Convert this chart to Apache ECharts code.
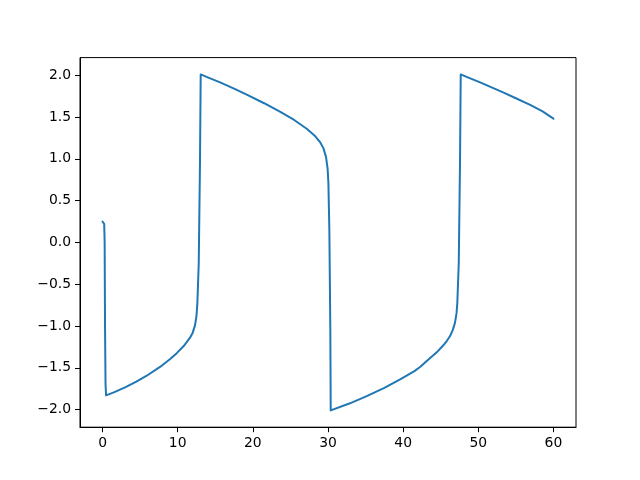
<!DOCTYPE html>
<html>
<head>
<meta charset="utf-8">
<script src="https://cdn.jsdelivr.net/npm/echarts@6/dist/echarts.min.js"></script>
<style>html,body{margin:0;padding:0;background:#fff}#c{width:640px;height:480px}</style>
</head>
<body>
<div id="c"></div>
<script>
const tValues = [0, 0.15, 0.22, 0.28, 0.33, 0.40, 0.47, 1.5, 3.0, 4.5, 5.88, 7.65, 9.0, 9.87, 10.8, 11.64, 12.0, 12.31, 12.5, 12.62, 12.8, 12.97, 13.06,
  14.0, 15.64, 17.5, 19.19, 21.5, 23.6, 25.5, 27.17, 28.2, 28.94, 29.4, 29.74, 29.95, 30.05, 30.18, 30.31, 30.36,
  32.93, 35.15, 37.5, 39.6, 41.5, 42.25, 43.14, 44.47, 45.5, 45.8, 46.24, 46.6, 46.9, 47.1, 47.21, 47.4, 47.57, 47.66,
  48.6, 50.24, 52.0, 53.3, 55.0, 56.9, 58.5, 60.0];
const yValues = [0.25, 0.245, 0.22, 0.0, -1.0, -1.7, -1.83, -1.795, -1.735, -1.665, -1.595, -1.49, -1.395, -1.325, -1.24, -1.14, -1.08, -0.99, -0.88, -0.72, -0.25, 0.99, 2.01,
  1.975, 1.915, 1.84, 1.767, 1.665, 1.565, 1.465, 1.36, 1.28, 1.20, 1.125, 1.02, 0.88, 0.72, 0.148, -1.048, -2.01,
  -1.925, -1.84, -1.74, -1.64, -1.54, -1.49, -1.42, -1.315, -1.215, -1.18, -1.12, -1.05, -0.96, -0.85, -0.72, -0.25, 0.99, 2.01,
  1.975, 1.915, 1.845, 1.795, 1.725, 1.645, 1.57, 1.48];
const xTicks = [0, 10, 20, 30, 40, 50, 60];
const yTicks = [-2.0, -1.5, -1.0, -0.5, 0.0, 0.5, 1.0, 1.5, 2.0];

const data = tValues.map((t, i) => [t, yValues[i]]);
const font = {fontFamily: 'DejaVu Sans', fontSize: 13.9, color: '#000'};
const chart = echarts.init(document.getElementById('c'), null, {renderer: 'canvas'});
chart.setOption({
  animation: false,
  backgroundColor: '#fff',
  grid: {left: 80, right: 64, top: 57.6, bottom: 52.8, show: true, borderColor: '#000', borderWidth: 1, containLabel: false},
  xAxis: {
    type: 'value', min: -3, max: 63,
    splitLine: {show: false},
    axisLine: {show: true, onZero: false, lineStyle: {color: '#000', width: 1}},
    axisTick: {show: true, inside: false, length: 5, customValues: xTicks, lineStyle: {color: '#000', width: 1}},
    axisLabel: Object.assign({margin: 9, customValues: xTicks, formatter: v => String(v)}, font)
  },
  yAxis: {
    type: 'value', min: -2.211, max: 2.211,
    splitLine: {show: false},
    axisLine: {show: true, onZero: false, lineStyle: {color: '#000', width: 1}},
    axisTick: {show: true, inside: false, length: 5, customValues: yTicks, lineStyle: {color: '#000', width: 1}},
    axisLabel: Object.assign({margin: 9, customValues: yTicks, formatter: v => v.toFixed(1).replace('-', '\u2212')}, font)
  },
  series: [{
    type: 'line', data: data, showSymbol: false, smooth: false,
    lineStyle: {color: '#1f77b4', width: 2, join: 'round', cap: 'round'}
  }]
});
</script>
</body>
</html>
